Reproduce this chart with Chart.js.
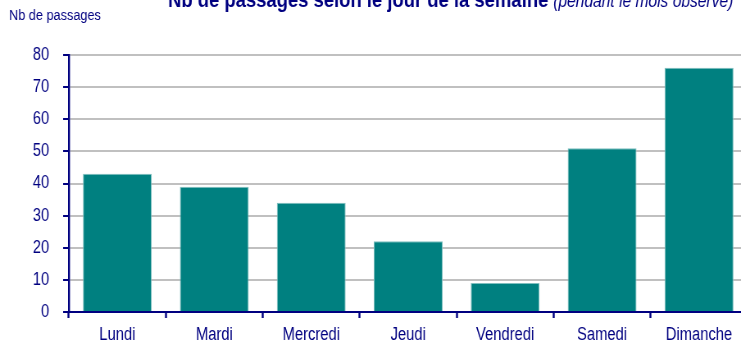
<!DOCTYPE html>
<html>
<head>
<meta charset="utf-8">
<script src="https://cdn.jsdelivr.net/npm/chart.js@4/dist/chart.umd.min.js"></script>
<style>
  html, body { margin: 0; padding: 0; background: #fff; overflow: hidden; }
  /* The canvas is drawn wider and squeezed horizontally, which gives the condensed lettering */
  #chart { display: block; width: 750px; height: 343px; }
</style>
</head>
<body>
<canvas id="chart" width="915" height="343" style="width:750px;height:343px"></canvas>
<script>
// Nombre de passages par jour de la semaine
const jours = ['Lundi', 'Mardi', 'Mercredi', 'Jeudi', 'Vendredi', 'Samedi', 'Dimanche'];
const passages = [43, 39, 34, 22, 9, 51, 76];
const yTicks = [0, 10, 20, 30, 40, 50, 60, 70, 80];

const NAVY = '#000080';
const FONT = 'Arial, "Liberation Sans", sans-serif';
const SX = 915 / 750; // horizontal squeeze factor (canvas units per CSS pixel)

// Titre et libellé d'axe dessinés sur le canevas
const headerPlugin = {
  id: 'header',
  afterDraw(chart) {
    const ctx = chart.ctx;
    ctx.save();
    ctx.fillStyle = NAVY;
    ctx.textBaseline = 'alphabetic';
    ctx.textAlign = 'left';
    ctx.font = '15.5px ' + FONT;
    ctx.fillText('Nb de passages', 9 * SX, 20);
    ctx.font = 'bold 22.5px ' + FONT;
    const t1 = 'Nb de passages selon le jour de la semaine';
    ctx.fillText(t1, 168 * SX, 7);
    const w1 = ctx.measureText(t1).width;
    ctx.font = 'italic 19px ' + FONT;
    ctx.fillText('(pendant le mois observé)', 168 * SX + w1 + 6, 7);
    ctx.restore();
  }
};

new Chart(document.getElementById('chart'), {
  type: 'bar',
  data: {
    labels: jours,
    datasets: [{
      data: passages,
      backgroundColor: '#008080',
      borderColor: '#7fbfbf',
      borderWidth: 1,
      categoryPercentage: 1.0,
      barPercentage: 0.71
    }]
  },
  options: {
    responsive: false,
    animation: false,
    devicePixelRatio: 1,
    layout: { padding: { top: 55, left: 0, right: 3, bottom: 0 } },
    plugins: { legend: { display: false }, tooltip: { enabled: false }, title: { display: false } },
    scales: {
      x: {
        grid: {
          offset: true,
          drawOnChartArea: false,
          drawTicks: true,
          tickLength: 6,
          tickColor: NAVY,
          tickWidth: 2.4
        },
        border: { color: NAVY, width: 2 },
        ticks: { color: NAVY, font: { family: FONT, size: 18 }, padding: 6, maxRotation: 0 },
        afterFit(scale) { scale.height = 31; }
      },
      y: {
        min: 0,
        max: 80,
        afterBuildTicks(scale) { scale.ticks = yTicks.map(v => ({ value: v })); },
        grid: {
          color: '#c0c0c0',
          lineWidth: 2,
          drawTicks: true,
          tickLength: 7,
          tickColor: NAVY,
          tickWidth: 2
        },
        border: { color: NAVY, width: 2.4 },
        ticks: { color: NAVY, font: { family: FONT, size: 18 }, padding: 17 },
        afterFit(scale) { scale.width = 84; }
      }
    }
  },
  plugins: [headerPlugin]
});
</script>
</body>
</html>
